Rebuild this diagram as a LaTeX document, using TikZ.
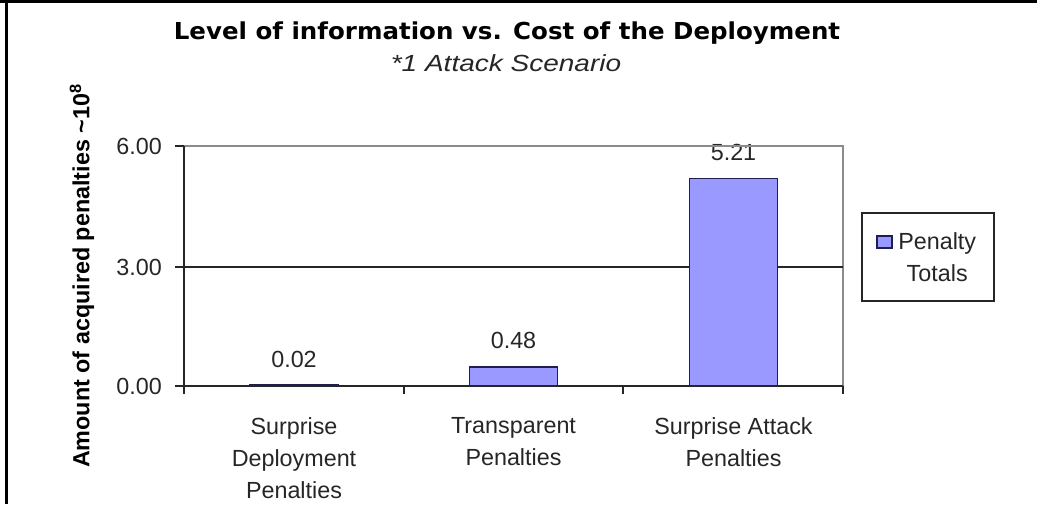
\documentclass[tikz,border=0pt]{standalone}
\usepackage{fontspec}
\setmainfont{Liberation Sans}
\newfontfamily\titlefont[FakeStretch=1.05]{DejaVu Sans}
\newfontfamily\widefont[FakeStretch=1.2]{Liberation Sans}
\usepackage{tikz}
\usetikzlibrary{positioning,calc}
\definecolor{barblue}{HTML}{9999FF}
\definecolor{baredge}{HTML}{1F1F4F}
\definecolor{framegray}{HTML}{8C8C8C}

\begin{document}
\begin{tikzpicture}[x=0.75pt,y=-0.75pt,
    txt/.style={font=\fontsize{17.5}{24}\selectfont,inner sep=0pt,text=black!85},
    axisline/.style={black!85,line width=1.3pt},
    bar/.style={fill=barblue,draw=baredge,line width=1.2pt}]
    \useasboundingbox (0,0) rectangle (1037,504);
    % Outer frame
    \draw[line width=2.4pt] (0,1) -- (1037,1);
    \draw[line width=2.4pt] (6.5,0) -- (6.5,504);

    % Bars with values and category names
    \foreach \val/\cx/\nm/\cat in {0.02/294/sdp/{Surprise\\Deployment\\Penalties},
                                   0.48/513.5/tp/{Transparent\\Penalties},
                                   5.21/733.5/sap/{Surprise Attack\\Penalties}} {
        \pgfmathsetmacro{\bartop}{386-39.8*\val}
        \draw[bar] (\cx-44,386) rectangle (\cx+44,\bartop);
        \node[txt] (val-\nm) at (\cx,\bartop-26) {\val};
        \node[txt,align=center,anchor=north] (cat-\nm) at (\cx,417) {\cat};
    }

    % Plot area
    \draw[framegray,line width=1pt] (184,146) -- (843,146) -- (843,386);
    \draw[axisline] (184,267) -- (689,267) (778,267) -- (843,267);
    \draw[axisline] (184,146) -- (184,386) -- (843,386);
    \foreach \v/\y in {0.00/386,3.00/267,6.00/146} {
        \draw[axisline] (175,\y) -- (184,\y);
        \node[txt,anchor=east] (tick-\y) at (162,\y) {\v};
    }
    \foreach \x in {184,404,623,843}
        \draw[axisline] (\x,386) -- (\x,394);

    % Titles
    \node[font=\titlefont\bfseries\fontsize{17.5}{21}\selectfont] (title) at (507,33)
        {Level of information vs. Cost of the Deployment};
    \node[font=\widefont\itshape\fontsize{17.5}{21}\selectfont,text=black!85] (subtitle) at (506,63)
        {*1 Attack Scenario};
    \node[font=\bfseries\fontsize{17.5}{21}\selectfont,rotate=90] (ylabel) at (82,276)
        {Amount of acquired penalties \textasciitilde10\textsuperscript{8}};

    % Legend
    \draw[black!85,line width=1.5pt] (862,213) rectangle (994,301);
    \node[bar,minimum width=11pt,minimum height=9pt,inner sep=0pt] (legmark) at (884.5,242) {};
    \node[txt,align=center,anchor=west] (legtext) at (898,257) {Penalty\\Totals};
\end{tikzpicture}
\end{document}
